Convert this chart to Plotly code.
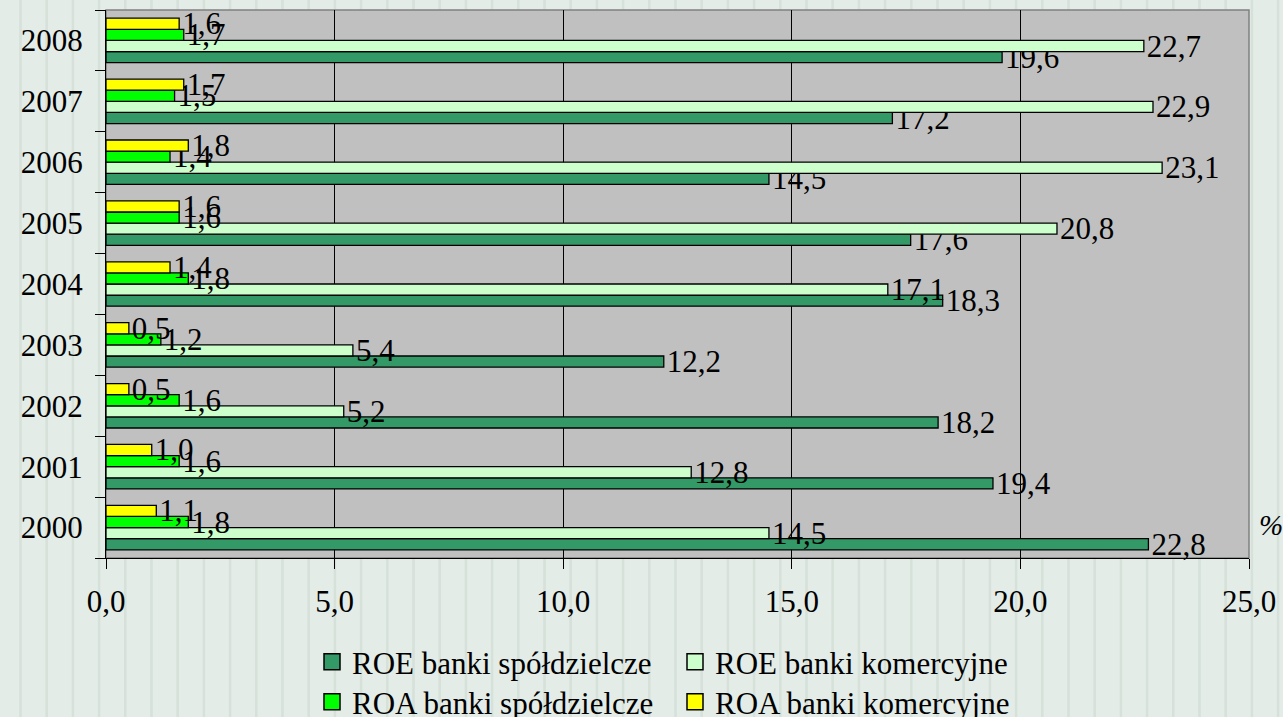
import plotly.graph_objects as go

years = ["2000", "2001", "2002", "2003", "2004", "2005", "2006", "2007", "2008"]
roe_spoldz = [22.8, 19.4, 18.2, 12.2, 18.3, 17.6, 14.5, 17.2, 19.6]
roe_komerc = [14.5, 12.8, 5.2, 5.4, 17.1, 20.8, 23.1, 22.9, 22.7]
roa_spoldz = [1.8, 1.6, 1.6, 1.2, 1.8, 1.6, 1.4, 1.5, 1.7]
roa_komerc = [1.1, 1.0, 0.5, 0.5, 1.4, 1.6, 1.8, 1.7, 1.6]
x_ticks = [0, 5, 10, 15, 20, 25]

series = [
    ("ROE banki spółdzielcze", roe_spoldz, "#339966", "legend"),
    ("ROE banki komercyjne", roe_komerc, "#ccffcc", "legend"),
    ("ROA banki spółdzielcze", roa_spoldz, "#00ff00", "legend2"),
    ("ROA banki komercyjne", roa_komerc, "#ffff00", "legend2"),
]

FONT = "Liberation Serif"
fig = go.Figure()
for name, vals, color, lg in series:
    fig.add_trace(go.Bar(
        y=years, x=vals, orientation="h", name=name, showlegend=False,
        marker=dict(color=color, line=dict(color="black", width=1.3)),
        texttemplate="%{x:.1f}", textposition="outside",
        textfont=dict(family=FONT, size=31, color="black"),
        constraintext="none", cliponaxis=False,
    ))
# legend entries with larger square swatches
for name, vals, color, lg in series:
    fig.add_trace(go.Scatter(
        x=[None], y=[None], mode="markers", name=name, legend=lg, showlegend=True,
        marker=dict(symbol="square", size=16, color=color, line=dict(color="black", width=1.5)),
    ))

# faint background stripes (decoration) + grey plot area
shapes = []
for i in range(50):
    xp = (20.5 + i * 26.2 - 106) / 1143
    shapes.append(dict(type="line", xref="paper", yref="paper", x0=xp, x1=xp,
                       y0=-0.3, y1=1.03, line=dict(color="#d6e1da", width=2.5), layer="below"))
shapes.append(dict(type="rect", xref="paper", yref="paper", x0=0, x1=1, y0=0, y1=1,
                   fillcolor="#c0c0c0", line=dict(color="#808080", width=1.5), layer="below"))

leg_common = dict(orientation="h", xref="container", xanchor="left", yref="container",
                  yanchor="top", bgcolor="rgba(0,0,0,0)", font=dict(size=31),
                  itemwidth=30, entrywidth=318, entrywidthmode="pixels",
                  traceorder="normal", tracegroupgap=0)

fig.update_layout(
    width=1283, height=717,
    paper_bgcolor="#e3ece7", plot_bgcolor="rgba(0,0,0,0)",
    separators=", ",
    barmode="group", bargap=0.27, bargroupgap=0,
    margin=dict(l=106, r=34, t=10, b=159, autoexpand=False),
    font=dict(family=FONT, size=30, color="black"),
    showlegend=True,
    legend=dict(x=312 / 1283, y=1 - 635 / 717, **leg_common),
    legend2=dict(x=312 / 1283, y=1 - 675 / 717, **leg_common),
    annotations=[dict(text="<i>%</i>", xref="paper", yref="paper", x=1.007, y=0.06,
                      xanchor="left", yanchor="middle", showarrow=False,
                      font=dict(family=FONT, size=29, color="black"))],
    shapes=shapes,
)
fig.update_xaxes(range=[0, 25], tickvals=x_ticks, tickformat=".1f", automargin=False,
                 showgrid=True, gridcolor="black", gridwidth=1,
                 ticks="outside", ticklen=10, tickcolor="black",
                 showline=True, linecolor="black", mirror=False,
                 ticklabelstandoff=6, zeroline=False,
                 tickfont=dict(family=FONT, size=31))
fig.update_yaxes(categoryorder="array", categoryarray=years, automargin=False,
                 tickson="boundaries", ticks="outside", ticklen=10, tickcolor="black",
                 showline=True, linecolor="black", showgrid=False,
                 ticklabelstandoff=16, tickfont=dict(family=FONT, size=31))
fig.write_html("out.html", config={"displayModeBar": False},
               post_script="document.body.style.margin='0';document.body.style.overflow='hidden';")
